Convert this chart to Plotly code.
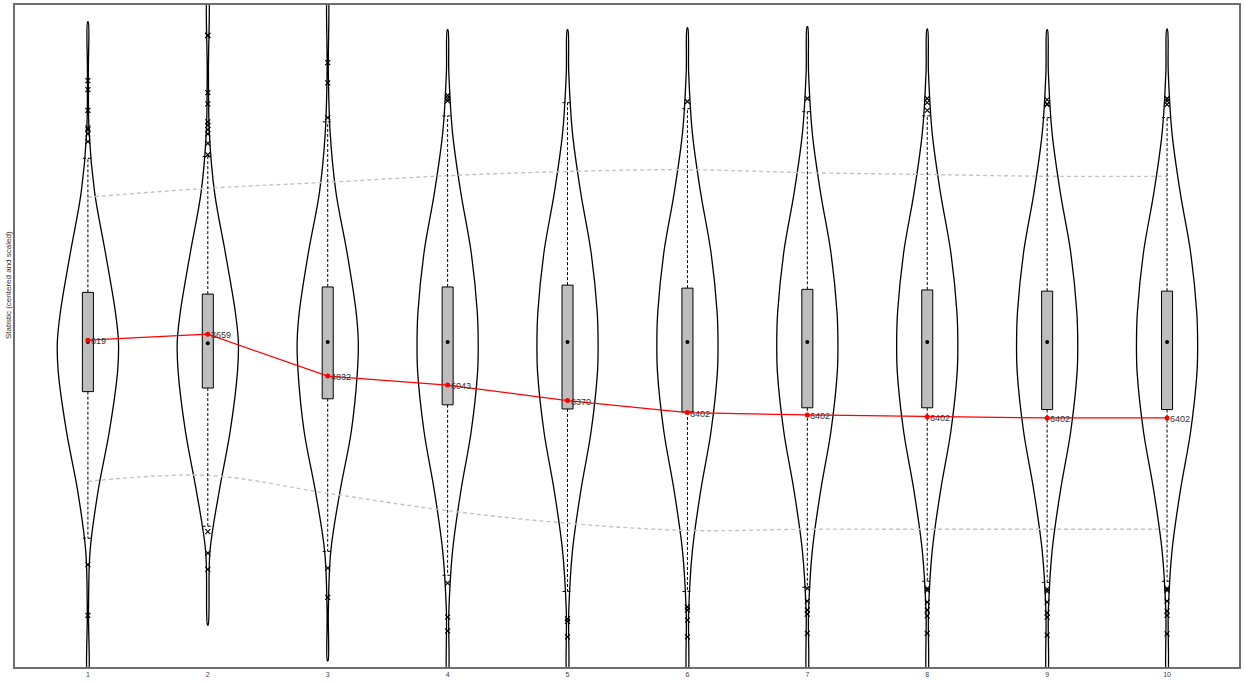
import plotly.graph_objects as go

# ---------------- data ----------------
CATEGORIES = [1, 2, 3, 4, 5, 6, 7, 8, 9, 10]
TICK_LABELS = ["1", "2", "3", "4", "5", "6", "7", "8", "9", "10"]

Q3 = [0.83, 0.80, 0.92, 0.92, 0.95, 0.90, 0.88, 0.87, 0.85, 0.85]
Q1 = [-0.83, -0.77, -0.95, -1.05, -1.12, -1.17, -1.10, -1.10, -1.13, -1.13]
MEDIANS = [0.0, -0.02, 0.0, 0.0, 0.0, 0.0, 0.0, 0.0, 0.0, 0.0]
WHISK_HI = [3.07, 3.10, 3.68, 3.78, 4.00, 3.90, 3.85, 3.78, 3.75, 3.75]
WHISK_LO = [-3.28, -3.08, -3.50, -3.90, -4.17, -4.17, -4.10, -4.00, -4.02, -4.00]

OUTLIERS = [
    [4.37, 4.22, 3.87, 3.58, 3.55, 3.48, 3.35, -3.72, -4.57],
    [5.13, 5.12, 4.17, 3.98, 3.68, 3.62, 3.55, 3.48, 3.32, 3.13, -3.17, -3.53, -3.80],
    [4.67, 4.33, 3.75, -3.78, -4.27],
    [4.12, 4.07, 4.03, -4.03, -4.60, -4.83],
    [-4.63, -4.67, -4.93],
    [4.02, -4.43, -4.48, -4.65, -4.93],
    [4.07, -4.12, -4.33, -4.48, -4.55, -4.87],
    [4.07, 4.00, 3.87, -4.12, -4.15, -4.35, -4.48, -4.58, -4.87],
    [4.05, 3.98, 3.97, -4.13, -4.17, -4.35, -4.53, -4.60, -4.90],
    [4.07, 4.03, 3.97, -4.12, -4.15, -4.33, -4.50, -4.57, -4.88],
]

MEANS = [0.03, 0.13, -0.57, -0.72, -0.98, -1.18, -1.22, -1.25, -1.27, -1.27]
MEAN_LABELS = ["619", "3659", "4832", "6043", "6370", "6402", "6402", "6402", "6402", "6402"]

BAND_UPPER = [2.42, 2.57, 2.67, 2.78, 2.85, 2.88, 2.83, 2.80, 2.77, 2.77]
BAND_LOWER = [-2.33, -2.23, -2.53, -2.82, -3.03, -3.15, -3.13, -3.13, -3.13, -3.13]

# violin profiles: y levels and relative density (1 = widest)
VIOLIN_Y = [
    [5.35, 4.5, 3.5, 2.5, 1.5, 0.5, 0.0, -0.5, -1.5, -2.5, -3.5, -4.5, -5.6],
    [5.9, 4.5, 3.5, 2.5, 1.5, 0.5, 0.0, -0.5, -1.5, -2.5, -3.5, -4.73],
    [5.9, 4.5, 3.5, 2.5, 1.5, 0.5, 0.0, -0.5, -1.5, -2.5, -3.5, -4.5, -5.33],
    [5.22, 4.5, 3.5, 2.5, 1.5, 0.5, 0.0, -0.5, -1.5, -2.5, -3.5, -4.5, -5.6],
    [5.22, 4.5, 3.5, 2.5, 1.5, 0.5, 0.0, -0.5, -1.5, -2.5, -3.5, -4.5, -5.6],
    [5.25, 4.5, 3.5, 2.5, 1.5, 0.5, 0.0, -0.5, -1.5, -2.5, -3.5, -4.5, -5.6],
    [5.27, 4.5, 3.5, 2.5, 1.5, 0.5, 0.0, -0.5, -1.5, -2.5, -3.5, -4.5, -5.6],
    [5.23, 4.5, 3.5, 2.5, 1.5, 0.5, 0.0, -0.5, -1.5, -2.5, -3.5, -4.5, -5.6],
    [5.22, 4.5, 3.5, 2.5, 1.5, 0.5, 0.0, -0.5, -1.5, -2.5, -3.5, -4.5, -5.6],
    [5.23, 4.5, 3.5, 2.5, 1.5, 0.5, 0.0, -0.5, -1.5, -2.5, -3.5, -4.5, -5.6],
]
VIOLIN_DENSITY = [
    [0.01, 0.015, 0.04, 0.22, 0.57, 0.90, 1.00, 0.97, 0.70, 0.33, 0.07, 0.02, 0.015],
    [0.015, 0.02, 0.05, 0.22, 0.57, 0.90, 1.00, 0.97, 0.73, 0.37, 0.07, 0.01],
    [0.01, 0.02, 0.08, 0.27, 0.63, 0.93, 1.00, 0.97, 0.77, 0.40, 0.10, 0.02, 0.01],
    [0.01, 0.04, 0.16, 0.43, 0.77, 0.97, 1.00, 0.98, 0.77, 0.43, 0.16, 0.04, 0.015],
    [0.01, 0.04, 0.16, 0.43, 0.77, 0.97, 1.00, 0.98, 0.77, 0.43, 0.16, 0.04, 0.015],
    [0.01, 0.04, 0.16, 0.43, 0.77, 0.97, 1.00, 0.98, 0.77, 0.43, 0.16, 0.04, 0.015],
    [0.01, 0.04, 0.16, 0.43, 0.77, 0.97, 1.00, 0.98, 0.77, 0.43, 0.16, 0.04, 0.015],
    [0.01, 0.04, 0.16, 0.43, 0.77, 0.97, 1.00, 0.98, 0.77, 0.43, 0.16, 0.04, 0.015],
    [0.01, 0.04, 0.16, 0.43, 0.77, 0.97, 1.00, 0.98, 0.77, 0.43, 0.16, 0.04, 0.015],
    [0.01, 0.04, 0.16, 0.43, 0.77, 0.97, 1.00, 0.98, 0.77, 0.43, 0.16, 0.04, 0.015],
]

Y_TITLE = "Statistic (centered and scaled)"

# ---------------- styling ----------------
VIOLIN_HALF = 0.255   # category units at density 1
BOX_HALF = 0.046
CAP_HALF = 0.042
Y_RANGE = [-5.433, 5.633]
X_RANGE = [0.392, 10.6]

fig = go.Figure()

# violins
for c, ys, ds in zip(CATEGORIES, VIOLIN_Y, VIOLIN_DENSITY):
    left_x = [c - d * VIOLIN_HALF for d in ds]
    right_x = [c + d * VIOLIN_HALF for d in ds]
    xs = left_x + right_x[::-1] + [left_x[0]]
    yy = ys + ys[::-1] + [ys[0]]
    fig.add_trace(go.Scatter(x=xs, y=yy, mode="lines",
                             line=dict(color="black", width=1.3, shape="spline", smoothing=1.0),
                             hoverinfo="skip", showlegend=False))

# gray dashed bands
for band in (BAND_UPPER, BAND_LOWER):
    fig.add_trace(go.Scatter(x=CATEGORIES, y=band, mode="lines",
                             line=dict(color="#c4c4c4", width=1.4, dash="4px,3px", shape="spline"),
                             hoverinfo="skip", showlegend=False))

# whiskers + caps
for c, q1, q3, lo, hi in zip(CATEGORIES, Q1, Q3, WHISK_LO, WHISK_HI):
    fig.add_trace(go.Scatter(x=[c, c, None, c, c, None,
                                c - CAP_HALF, c + CAP_HALF, None, c - CAP_HALF, c + CAP_HALF],
                             y=[q3, hi, None, q1, lo, None, hi, hi, None, lo, lo],
                             mode="lines",
                             line=dict(color="black", width=1, dash="3px,2px"),
                             hoverinfo="skip", showlegend=False))

# boxes
for c, q1, q3 in zip(CATEGORIES, Q1, Q3):
    fig.add_trace(go.Scatter(x=[c - BOX_HALF, c + BOX_HALF, c + BOX_HALF, c - BOX_HALF, c - BOX_HALF],
                             y=[q1, q1, q3, q3, q1], mode="lines", fill="toself",
                             fillcolor="#bebebe", line=dict(color="black", width=1),
                             hoverinfo="skip", showlegend=False))

# outliers
ox, oy = [], []
for c, outs in zip(CATEGORIES, OUTLIERS):
    for v in outs:
        ox.append(c)
        oy.append(v)
fig.add_trace(go.Scatter(x=ox, y=oy, mode="markers",
                         marker=dict(symbol="x-thin", size=5, line=dict(color="black", width=1.1)),
                         hoverinfo="skip", showlegend=False))

# medians
fig.add_trace(go.Scatter(x=CATEGORIES, y=MEDIANS, mode="markers",
                         marker=dict(symbol="circle", size=4, color="black"),
                         hoverinfo="skip", showlegend=False))

# mean line
fig.add_trace(go.Scatter(x=CATEGORIES, y=MEANS, mode="lines+markers",
                         line=dict(color="red", width=1.2),
                         marker=dict(symbol="circle", size=5, color="red"),
                         hoverinfo="skip", showlegend=False))

for c, m, lab in zip(CATEGORIES, MEANS, MEAN_LABELS):
    fig.add_annotation(x=c, y=m, text=lab, showarrow=False, xanchor="left",
                       xshift=1, yshift=-1, font=dict(size=9, color="#333333", family="Liberation Sans"))

fig.add_annotation(xref="paper", yref="paper", x=-0.0057, y=0.577, text=Y_TITLE,
                   textangle=-90, showarrow=False, xanchor="center", yanchor="middle",
                   font=dict(size=8, color="#333333", family="Liberation Sans"))

fig.update_layout(
    width=1244, height=684,
    margin=dict(l=15, r=4, t=3, b=17),
    paper_bgcolor="white", plot_bgcolor="white",
    xaxis=dict(range=X_RANGE, tickmode="array", tickvals=CATEGORIES, ticktext=TICK_LABELS,
               showgrid=False, zeroline=False, showline=True, mirror=True,
               linecolor="#6e6e6e", linewidth=1.5, ticks="",
               tickfont=dict(size=7, color="#444444", family="Liberation Sans")),
    yaxis=dict(range=Y_RANGE, showgrid=False, zeroline=False, showline=True, mirror=True,
               linecolor="#6e6e6e", linewidth=1.5, ticks="", showticklabels=False),
)

fig.write_html("out.html", config={"displayModeBar": False},
               post_script="document.body.style.margin='0';document.body.style.overflow='hidden';")
